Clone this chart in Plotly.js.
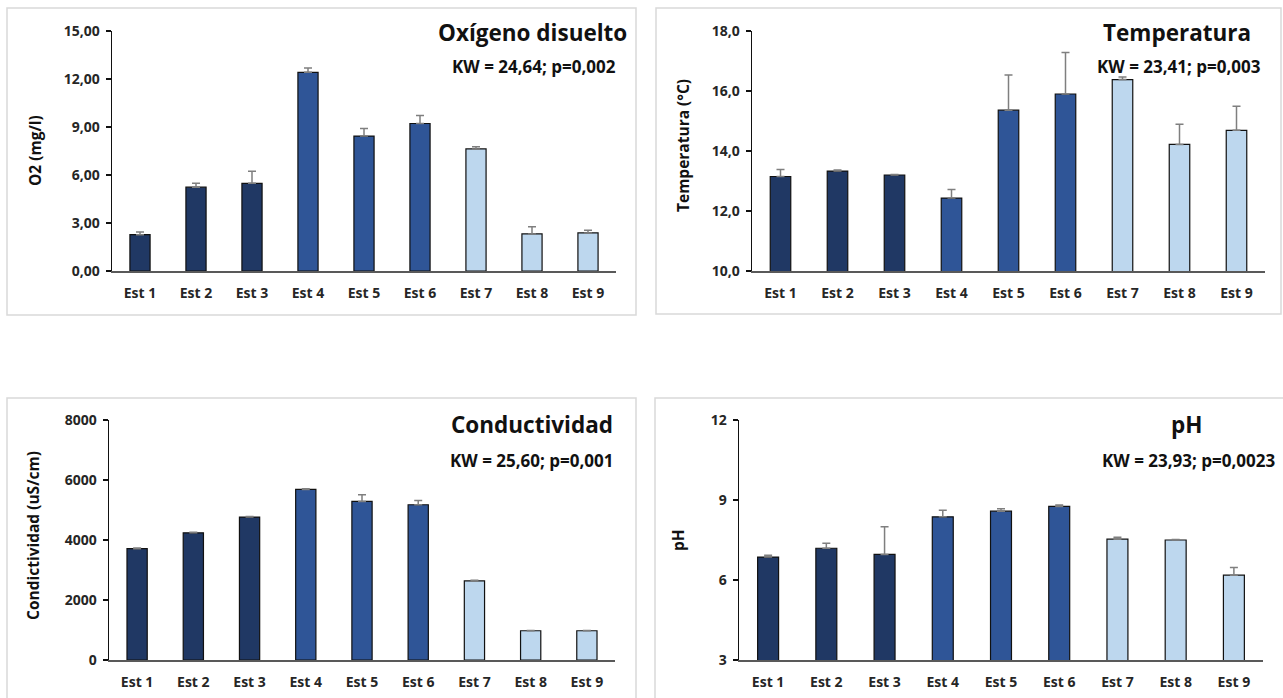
<!DOCTYPE html>
<html>
<head>
<meta charset="utf-8">
<script src="https://cdn.plot.ly/plotly-3.0.1.min.js"></script>
<style>
html,body{margin:0;padding:0;background:#ffffff;}
#chart{width:1283px;height:698px;}
</style>
</head>
<body>
<div id="chart"></div>
<script>
// ---- data ----
const stations = ["Est 1","Est 2","Est 3","Est 4","Est 5","Est 6","Est 7","Est 8","Est 9"];
const groupColors = ["#203864","#203864","#203864","#2f5597","#2f5597","#2f5597","#bdd7ee","#bdd7ee","#bdd7ee"];

const o2Values = [2.27, 5.24, 5.48, 12.42, 8.43, 9.22, 7.63, 2.32, 2.38];
const o2Errors = [0.17, 0.24, 0.75, 0.27, 0.47, 0.50, 0.13, 0.45, 0.17];

const tempValues = [13.15, 13.33, 13.20, 12.43, 15.36, 15.90, 16.38, 14.22, 14.69];
const tempErrors = [0.23, 0.04, 0.02, 0.29, 1.17, 1.38, 0.09, 0.67, 0.80];

const condValues = [3710, 4240, 4765, 5685, 5285, 5175, 2635, 975, 975];
const condErrors = [20, 20, 20, 20, 220, 145, 20, 10, 10];

const phValues = [6.86, 7.19, 6.96, 8.37, 8.58, 8.76, 7.53, 7.50, 6.18];
const phErrors = [0.07, 0.19, 1.04, 0.25, 0.09, 0.05, 0.07, 0.02, 0.29];

const titles = ["Oxígeno disuelto","Temperatura","Conductividad","pH"];
const kwTexts = ["KW = 24,64; p=0,002","KW = 23,41; p=0,003","KW = 25,60; p=0,001","KW = 23,93; p=0,0023"];
const yTitles = ["O2 (mg/l)","Temperatura (°C)","Condictividad (uS/cm)","pH"];

// ---- layout helpers ----
const W = 1283, H = 698;
const FONT = "Open Sans, sans-serif";
const px = x => x / W;
const py = y => 1 - y / H;

function barTrace(vals, errs, xa, ya) {
  return {
    type: "bar", x: stations, y: vals, xaxis: xa, yaxis: ya,
    marker: { color: groupColors, line: { color: "#111111", width: 1.2 } },
    error_y: { type: "data", array: errs, arrayminus: errs.map(() => 0), symmetric: false,
               color: "#7f7f7f", thickness: 1.5, width: 4 },
    hoverinfo: "x+y", showlegend: false
  };
}

const data = [
  barTrace(o2Values, o2Errors, "x", "y"),
  barTrace(tempValues, tempErrors, "x2", "y2"),
  barTrace(condValues, condErrors, "x3", "y3"),
  barTrace(phValues, phErrors, "x4", "y4")
];

const tickFont = { family: FONT, size: 14, color: "#262626", weight: 700 };

function xAxis(d0, d1, anchor) {
  return {
    domain: [px(d0), px(d1)], anchor: anchor, type: "category",
    showline: true, linecolor: "#595959", linewidth: 1.5,
    ticks: "", showgrid: false, zeroline: false,
    tickfont: tickFont, ticklabelstandoff: 9, fixedrange: true
  };
}
function yAxis(top, bot, anchor, range, dtick, fmt) {
  return {
    domain: [py(bot), py(top)], anchor: anchor, range: range, dtick: dtick, tick0: range[0],
    tickformat: fmt, showline: true, linecolor: "#111111", linewidth: 1.5,
    ticks: "outside", ticklen: 5, tickcolor: "#111111", tickwidth: 1.2,
    showgrid: false, zeroline: false, tickfont: tickFont, ticklabelstandoff: 3, fixedrange: true
  };
}

const panels = [
  { box: [7, 8, 636, 315] },
  { box: [656, 8, 1281, 314] },
  { box: [7, 398, 636, 720] },
  { box: [655, 398, 1300, 720] }
];

const shapes = panels.map(p => ({
  type: "rect", xref: "paper", yref: "paper",
  x0: px(p.box[0]), x1: px(p.box[2]), y0: py(p.box[3]), y1: py(p.box[1]),
  line: { color: "#d9d9d9", width: 1.5 }, fillcolor: "rgba(0,0,0,0)", layer: "below"
}));

function ann(text, x, y, size, xanchor, angle) {
  return {
    text: text, xref: "paper", yref: "paper", x: px(x), y: py(y),
    xanchor: xanchor, yanchor: "middle", showarrow: false, textangle: angle || 0,
    font: { family: FONT, size: size, color: "#111111", weight: 700 }
  };
}

const annotations = [
  ann(titles[0], 629, 32, 22.5, "right"),
  ann(kwTexts[0], 618, 66, 17, "right"),
  ann(titles[1], 1253, 32, 22.5, "right"),
  ann(kwTexts[1], 1263, 66, 17, "right"),
  ann(titles[2], 615, 424, 22.5, "right"),
  ann(kwTexts[2], 615, 460, 17, "right"),
  ann(titles[3], 1186, 424, 22.5, "center"),
  ann(kwTexts[3], 1277, 460, 17, "right"),
  ann(yTitles[0], 35, 151, 15.5, "center", -90),
  ann(yTitles[1], 683, 146, 15.5, "center", -90),
  ann(yTitles[2], 33, 536, 15.5, "center", -90),
  ann(yTitles[3], 678, 540, 15.5, "center", -90)
];

const layout = {
  width: W, height: H,
  margin: { l: 0, r: 0, t: 0, b: 0 },
  paper_bgcolor: "#ffffff", plot_bgcolor: "rgba(0,0,0,0)",
  separators: ",.",
  bargap: 0.64,
  font: { family: FONT, color: "#262626" },
  xaxis: xAxis(112, 616, "y"),
  yaxis: yAxis(31, 271, "x", [0, 15], 3, ".2f"),
  xaxis2: xAxis(752, 1265, "y2"),
  yaxis2: yAxis(31, 271, "x2", [10, 18], 2, ".1f"),
  xaxis3: xAxis(109, 615, "y3"),
  yaxis3: yAxis(420, 660, "x3", [0, 8000], 2000, ".0f"),
  xaxis4: xAxis(739, 1263, "y4"),
  yaxis4: yAxis(420, 660, "x4", [3, 12], 3, ".0f"),
  shapes: shapes,
  annotations: annotations
};

Plotly.newPlot("chart", data, layout, { displayModeBar: false, staticPlot: true });
</script>
</body>
</html>
